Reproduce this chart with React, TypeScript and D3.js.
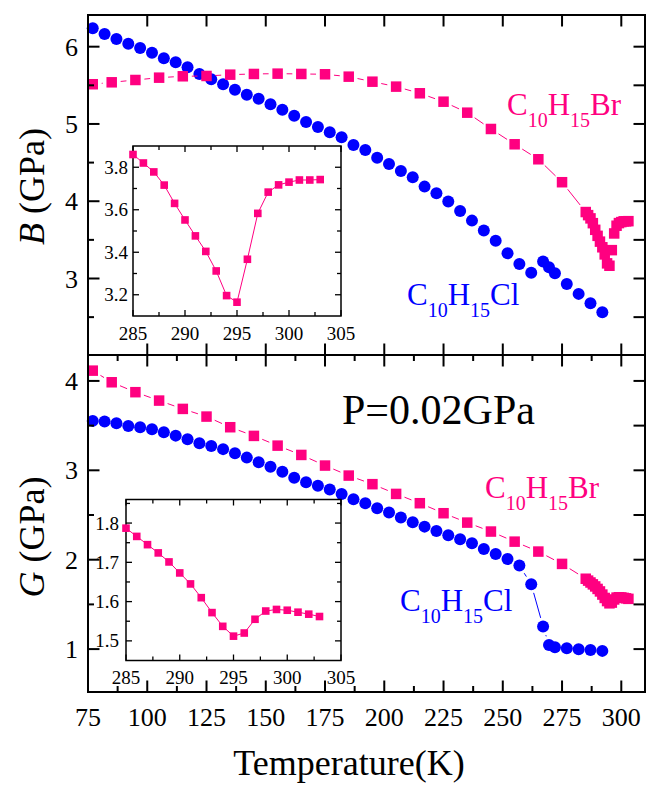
import React from 'react';
import * as d3 from 'd3';

// ---------------- data ----------------
const clT = [77, 82, 87, 92, 97, 102, 107, 112, 117, 122, 127, 132, 137, 142, 147, 152, 157, 162, 167, 172,
  177, 182, 187, 192, 197, 202, 207, 212, 217, 222, 227, 232, 237, 242, 247, 252, 257, 262,
  267, 269.5, 272, 277, 282, 287, 292];
const clB = [6.238, 6.164, 6.100, 6.039, 5.983, 5.922, 5.850, 5.798, 5.733, 5.647, 5.578, 5.514, 5.444, 5.379, 5.327, 5.255, 5.185, 5.107, 5.026, 4.961,
  4.893, 4.828, 4.728, 4.664, 4.564, 4.483, 4.392, 4.310, 4.189, 4.103, 3.995, 3.874, 3.749, 3.620, 3.490, 3.327, 3.189, 3.074,
  3.219, 3.146, 3.069, 2.930, 2.801, 2.680, 2.564];
const clG = [3.553, 3.545, 3.527, 3.497, 3.482, 3.460, 3.426, 3.388, 3.348, 3.303, 3.273, 3.237, 3.191, 3.142, 3.091, 3.041, 2.985, 2.918, 2.867, 2.826,
  2.785, 2.736, 2.677, 2.632, 2.576, 2.527, 2.471, 2.419, 2.370, 2.322, 2.274, 2.229, 2.185, 2.121, 2.065, 2.009, 1.934, 1.726,
  1.252, 1.047, 1.021, 1.010, 0.999, 0.991, 0.980];

const brT = [77, 85, 95, 105, 115, 125, 135, 145, 155, 165, 175, 185, 195, 205, 215, 225, 235, 245, 255, 265, 275];
const brB = [5.514, 5.539, 5.569, 5.599, 5.617, 5.621, 5.638, 5.647, 5.651, 5.647, 5.643, 5.612, 5.547, 5.483, 5.397, 5.288, 5.146, 4.935, 4.737, 4.543, 4.246];
const brG = [4.115, 3.985, 3.874, 3.780, 3.687, 3.601, 3.482, 3.385, 3.276, 3.172, 3.053, 2.941, 2.845, 2.736, 2.632, 2.520, 2.415, 2.315, 2.202, 2.091, 1.953];

const insetT = [285, 286, 287, 288, 289, 290, 291, 292, 293, 294, 295, 296, 297, 298, 299, 300, 301, 302, 303];
const insetB = [3.860, 3.820, 3.778, 3.716, 3.630, 3.552, 3.477, 3.404, 3.312, 3.196, 3.165, 3.367, 3.583, 3.683, 3.717, 3.730, 3.740, 3.740, 3.742];
const insetG = [1.787, 1.766, 1.745, 1.724, 1.701, 1.673, 1.645, 1.610, 1.572, 1.537, 1.512, 1.520, 1.555, 1.576, 1.580, 1.578, 1.573, 1.568, 1.562];

const xTicks = [75, 100, 125, 150, 175, 200, 225, 250, 275, 300];
const xMinor = [87.5, 112.5, 137.5, 162.5, 187.5, 212.5, 237.5, 262.5, 287.5];
const bTicks = [3, 4, 5, 6];
const bMinor = [2.5, 3.5, 4.5, 5.5];
const gTicks = [1, 2, 3, 4];
const gMinor = [1.5, 2.5, 3.5];
const inXTicks = [285, 290, 295, 300, 305];
const inXMinor = [287.5, 292.5, 297.5, 302.5];
const inBTicks = [3.2, 3.4, 3.6, 3.8];
const inBMinor = [3.3, 3.5, 3.7];
const inGTicks = [1.5, 1.6, 1.7, 1.8];
const inGMinor = [1.55, 1.65, 1.75, 1.85];

// ---------------- style ----------------
const PINK = '#FF0080';
const BLUE = '#0000FF';
const FONT = '"Liberation Serif", "Times New Roman", serif';

const L = 88, R = 645, TOP = 15, MID = 355, BOT = 692;

const x = d3.scaleLinear().domain([75, 310]).range([L, R]);
const yB = d3.scaleLinear().domain([2.01, 6.41]).range([MID, TOP]);
const yG = d3.scaleLinear().domain([0.52, 4.29]).range([BOT, MID]);

function gapSegments(pts: [number, number][], gap: number) {
  const segs: number[][] = [];
  for (let i = 0; i < pts.length - 1; i++) {
    const [x1, y1] = pts[i];
    const [x2, y2] = pts[i + 1];
    const dx = x2 - x1, dy = y2 - y1;
    const d = Math.hypot(dx, dy);
    if (d <= 2 * gap + 1) continue;
    const ux = dx / d, uy = dy / d;
    segs.push([x1 + ux * gap, y1 + uy * gap, x2 - ux * gap, y2 - uy * gap]);
  }
  return segs;
}

function Series({ xs, ys, sx, sy, color, shape, size, gap }: any) {
  const pts: [number, number][] = xs.map((t: number, i: number) => [sx(t), sy(ys[i])]);
  const segs = gapSegments(pts, gap);
  return (
    <g>
      {segs.map((s, i) => (
        <line key={'s' + i} x1={s[0]} y1={s[1]} x2={s[2]} y2={s[3]} stroke={color} strokeWidth={1} />
      ))}
      {pts.map((p, i) =>
        shape === 'circle' ? (
          <circle key={i} cx={p[0]} cy={p[1]} r={size} fill={color} />
        ) : (
          <rect key={i} x={p[0] - size / 2} y={p[1] - size / 2} width={size} height={size} fill={color} />
        )
      )}
    </g>
  );
}

function Formula({ x0, y0, name, color, size = 31, sub = 20, drop = 12 }: any) {
  return (
    <text x={x0} y={y0} fill={color} fontFamily={FONT} fontSize={size}>
      <tspan>C</tspan>
      <tspan fontSize={sub} dy={drop}>10</tspan>
      <tspan dy={-drop}>H</tspan>
      <tspan fontSize={sub} dy={drop}>15</tspan>
      <tspan dy={-drop}>{name}</tspan>
    </text>
  );
}

function Inset({ left, right, top, bottom, yDomain, yTicks, yMinor, ys, labelGap }: any) {
  const sx = d3.scaleLinear().domain([285, 305]).range([left, right]);
  const sy = d3.scaleLinear().domain(yDomain).range([bottom, top]);
  const line = d3.line<number>().x((d, i) => sx(insetT[i])).y((d) => sy(d));
  const maj = 6, mnr = 4;
  return (
    <g>
      <rect x={left} y={top} width={right - left} height={bottom - top} fill="white" stroke="black" strokeWidth={1.5} />
      {inXTicks.map((t) => (
        <g key={'xt' + t}>
          <line x1={sx(t)} x2={sx(t)} y1={bottom} y2={bottom - maj} stroke="black" strokeWidth={1.3} />
          <line x1={sx(t)} x2={sx(t)} y1={top} y2={top + maj} stroke="black" strokeWidth={1.3} />
          <text x={sx(t)} y={bottom + 23.5} textAnchor="middle" fontFamily={FONT} fontSize={19}>{t}</text>
        </g>
      ))}
      {inXMinor.map((t) => (
        <g key={'xm' + t}>
          <line x1={sx(t)} x2={sx(t)} y1={bottom} y2={bottom - mnr} stroke="black" strokeWidth={1.3} />
          <line x1={sx(t)} x2={sx(t)} y1={top} y2={top + mnr} stroke="black" strokeWidth={1.3} />
        </g>
      ))}
      {yTicks.map((v: number) => (
        <g key={'yt' + v}>
          <line x1={left} x2={left + maj} y1={sy(v)} y2={sy(v)} stroke="black" strokeWidth={1.3} />
          <line x1={right} x2={right - maj} y1={sy(v)} y2={sy(v)} stroke="black" strokeWidth={1.3} />
          <text x={left - labelGap} y={sy(v) + 6.5} textAnchor="end" fontFamily={FONT} fontSize={19}>{v.toFixed(1)}</text>
        </g>
      ))}
      {yMinor.map((v: number) => (
        <g key={'ym' + v}>
          <line x1={left} x2={left + mnr} y1={sy(v)} y2={sy(v)} stroke="black" strokeWidth={1.3} />
          <line x1={right} x2={right - mnr} y1={sy(v)} y2={sy(v)} stroke="black" strokeWidth={1.3} />
        </g>
      ))}
      <path d={line(ys) || ''} fill="none" stroke={PINK} strokeWidth={1} />
      {ys.map((v: number, i: number) => (
        <rect key={i} x={sx(insetT[i]) - 3.8} y={sy(v) - 3.8} width={7.6} height={7.6} fill={PINK} />
      ))}
    </g>
  );
}

export default function App() {
  const allBrT = [...brT, ...insetT];
  const allBrB = [...brB, ...insetB];
  const allBrG = [...brG, ...insetG];
  const MJ = 11.5, MN = 6;
  return (
    <svg width={647} height={785} style={{ position: 'absolute', left: 0, top: 0, background: 'white' }}>
      <rect x={0} y={0} width={647} height={785} fill="white" />

      {/* ----- top panel data ----- */}
      <Series xs={clT} ys={clB} sx={x} sy={yB} color={BLUE} shape="circle" size={6} gap={9} />
      <Series xs={allBrT} ys={allBrB} sx={x} sy={yB} color={PINK} shape="square" size={10.5} gap={9} />

      {/* ----- bottom panel data ----- */}
      <Series xs={clT} ys={clG} sx={x} sy={yG} color={BLUE} shape="circle" size={6} gap={9} />
      <Series xs={allBrT} ys={allBrG} sx={x} sy={yG} color={PINK} shape="square" size={10.5} gap={9} />

      {/* ----- insets ----- */}
      <Inset left={133} right={341} top={146} bottom={316} yDomain={[3.1, 3.9]} yTicks={inBTicks} yMinor={inBMinor} ys={insetB} labelGap={5} />
      <Inset left={126} right={341} top={499.5} bottom={660.5} yDomain={[1.45, 1.86]} yTicks={inGTicks} yMinor={inGMinor} ys={insetG} labelGap={7} />

      {/* ----- frame ----- */}
      <rect x={L} y={TOP} width={R - L} height={BOT - TOP} fill="none" stroke="black" strokeWidth={2} />
      <line x1={L} x2={R} y1={MID} y2={MID} stroke="black" strokeWidth={2} />

      {/* x ticks */}
      {xTicks.map((t) => (
        <g key={'x' + t}>
          <line x1={x(t)} x2={x(t)} y1={TOP} y2={TOP + MJ} stroke="black" strokeWidth={2} />
          <line x1={x(t)} x2={x(t)} y1={MID} y2={MID - MJ} stroke="black" strokeWidth={2} />
          <line x1={x(t)} x2={x(t)} y1={MID} y2={MID + MJ} stroke="black" strokeWidth={2} />
          <line x1={x(t)} x2={x(t)} y1={BOT} y2={BOT - MJ} stroke="black" strokeWidth={2} />
          <text x={x(t)} y={726} textAnchor="middle" fontFamily={FONT} fontSize={26}>{t}</text>
        </g>
      ))}
      {xMinor.map((t) => (
        <g key={'xm' + t}>
          <line x1={x(t)} x2={x(t)} y1={MID} y2={MID + MN} stroke="black" strokeWidth={2} />
          <line x1={x(t)} x2={x(t)} y1={BOT} y2={BOT - MN} stroke="black" strokeWidth={2} />
        </g>
      ))}

      {/* y ticks top */}
      {bTicks.map((v) => (
        <g key={'b' + v}>
          <line x1={L} x2={L + MJ} y1={yB(v)} y2={yB(v)} stroke="black" strokeWidth={2} />
          <line x1={R} x2={R - MJ} y1={yB(v)} y2={yB(v)} stroke="black" strokeWidth={2} />
          <text x={78} y={yB(v) + 9} textAnchor="end" fontFamily={FONT} fontSize={26}>{v}</text>
        </g>
      ))}
      {bMinor.map((v) => (
        <g key={'bm' + v}>
          <line x1={L} x2={L + MN} y1={yB(v)} y2={yB(v)} stroke="black" strokeWidth={2} />
          <line x1={R} x2={R - MJ} y1={yB(v)} y2={yB(v)} stroke="black" strokeWidth={2} />
        </g>
      ))}

      {/* y ticks bottom */}
      {gTicks.map((v) => (
        <g key={'g' + v}>
          <line x1={L} x2={L + MJ} y1={yG(v)} y2={yG(v)} stroke="black" strokeWidth={2} />
          <line x1={R} x2={R - MJ} y1={yG(v)} y2={yG(v)} stroke="black" strokeWidth={2} />
          <text x={78} y={yG(v) + 9} textAnchor="end" fontFamily={FONT} fontSize={26}>{v}</text>
        </g>
      ))}
      {gMinor.map((v) => (
        <g key={'gm' + v}>
          <line x1={L} x2={L + MN} y1={yG(v)} y2={yG(v)} stroke="black" strokeWidth={2} />
          <line x1={R} x2={R - MJ} y1={yG(v)} y2={yG(v)} stroke="black" strokeWidth={2} />
        </g>
      ))}

      {/* axis titles */}
      <text transform="translate(44,186.5) rotate(-90)" textAnchor="middle" fontFamily={FONT} fontSize={36}>
        <tspan fontStyle="italic">B</tspan> (GPa)
      </text>
      <text transform="translate(44,537) rotate(-90)" textAnchor="middle" fontFamily={FONT} fontSize={36}>
        <tspan fontStyle="italic">G</tspan> (GPa)
      </text>
      <text x={349} y={775} textAnchor="middle" fontFamily={FONT} fontSize={36}>Temperature(K)</text>

      {/* annotations */}
      <Formula x0={507} y0={115} name="Br" color={PINK} />
      <Formula x0={407} y0={305} name="Cl" color={BLUE} />
      <Formula x0={485} y0={498} name="Br" color={PINK} />
      <Formula x0={400} y0={611} name="Cl" color={BLUE} />
      <text x={342} y={424} fontFamily={FONT} fontSize={42}>P=0.02GPa</text>
    </svg>
  );
}
